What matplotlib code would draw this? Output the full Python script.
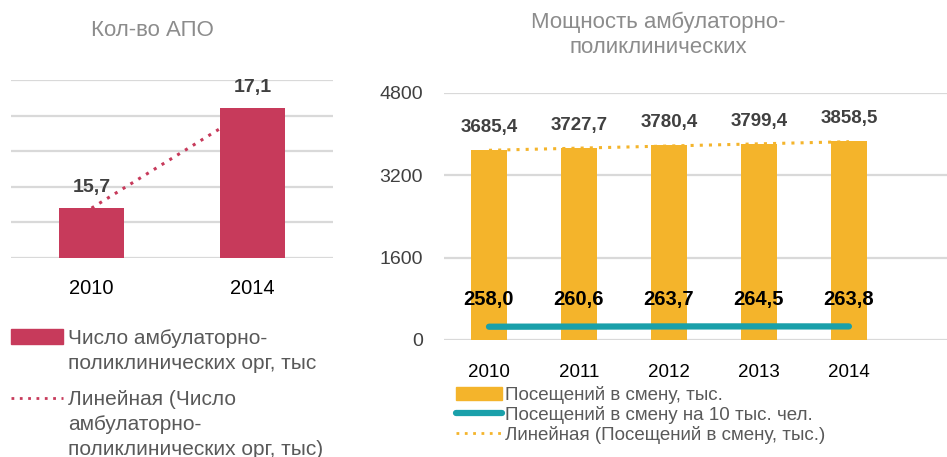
import numpy as np
import matplotlib
matplotlib.use("Agg")
import matplotlib.pyplot as plt
from matplotlib.patches import Patch
from matplotlib.lines import Line2D

plt.rcParams['font.family'] = ['Liberation Sans', 'DejaVu Sans']

# left chart data
apo_years = ['2010', '2014']
apo_values = [15.7, 17.1]

# right chart data
years = ['2010', '2011', '2012', '2013', '2014']
visits = [3685.4, 3727.7, 3780.4, 3799.4, 3858.5]
visits_per_10k = [258.0, 260.6, 263.7, 264.5, 263.8]

red = '#C73A5B'
yellow = '#F4B42B'
teal = '#1AA0AA'
grid_c = '#D9D9D9'
title_c = '#8C8C8C'
label_c = '#404040'
legend_c = '#595959'

W, H = 947, 457
fig = plt.figure(figsize=(W / 100, H / 100), dpi=100)


def px_axes(x0, y_top, x1, y_bot):
    return fig.add_axes([x0 / W, (H - y_bot) / H, (x1 - x0) / W, (y_bot - y_top) / H])


def fmt(v):
    return f'{v:.1f}'.replace('.', ',')


def style_axes(ax):
    for s in ax.spines.values():
        s.set_visible(False)
    ax.set_axisbelow(True)
    ax.yaxis.grid(True, color=grid_c, linewidth=1.6)
    ax.tick_params(length=0)


# ---------- left chart ----------
ax1 = px_axes(11, 80, 333, 258)
style_axes(ax1)
x1 = np.arange(len(apo_years))
ax1.bar(x1, apo_values, width=0.4, color=red, bottom=0)
ax1.set_ylim(15.0, 17.5)
ax1.set_yticks(np.arange(15.0, 17.51, 0.5))
ax1.set_yticklabels([])
ax1.set_xlim(-0.5, 1.5)
ax1.set_xticks(x1)
ax1.set_xticklabels(apo_years, fontsize=14.5, color='black')
ax1.tick_params(axis='x', pad=15)
fit1 = np.polyfit(x1, apo_values, 1)
ax1.plot(x1, np.polyval(fit1, x1), linestyle=(0, (1, 2)), color=red, linewidth=2.2)
for xi, v in zip(x1, apo_values):
    ax1.annotate(fmt(v), (xi, v), xytext=(0, 15), textcoords='offset points',
                 ha='center', va='center', fontsize=14, fontweight='bold', color=label_c)
fig.text(152 / W, 1 - 30 / H, 'Кол-во АПО', ha='center', va='center', fontsize=16, color=title_c)

leg1 = ax1.legend(
    handles=[Patch(color=red),
             Line2D([], [], color=red, linestyle=(0, (1, 2)), linewidth=2)],
    labels=['Число амбулаторно-\nполиклинических орг, тыс',
            'Линейная (Число\nамбулаторно-\nполиклинических орг, тыс)'],
    loc='upper left', bbox_to_anchor=(11 / W, 1 - 329 / H), bbox_transform=fig.transFigure,
    frameon=False, fontsize=15, borderpad=0, borderaxespad=0,
    handlelength=2.5, handletextpad=0.25, labelspacing=0.85, labelcolor=legend_c)
for t in leg1.get_texts():
    t.set_linespacing(1.38)
for col in leg1._legend_handle_box.get_children():
    for row in col.get_children():
        row.align = 'top'

# ---------- right chart ----------
ax2 = px_axes(444, 93, 947, 340)
style_axes(ax2)
x2 = np.arange(len(years))
ax2.bar(x2, visits, width=0.4, color=yellow)
ax2.plot(x2, visits_per_10k, color=teal, linewidth=4.5, solid_capstyle='round')
fit2 = np.polyfit(x2, visits, 1)
ax2.plot(x2, np.polyval(fit2, x2), linestyle=(0, (1, 2)), color=yellow, linewidth=2.2)
ax2.set_ylim(0, 4800)
ax2.set_yticks([0, 1600, 3200, 4800])
ax2.set_yticklabels(['0', '1600', '3200', '4800'], fontsize=14, color=label_c)
ax2.tick_params(axis='y', pad=15)
ax2.set_xlim(-0.5, 5.09)
ax2.set_xticks(x2)
ax2.set_xticklabels(years, fontsize=13.5, color='black')
ax2.tick_params(axis='x', pad=17)
for xi, v in zip(x2, visits):
    ax2.annotate(fmt(v), (xi, v), xytext=(0, 16.5), textcoords='offset points',
                 ha='center', va='center', fontsize=13.5, fontweight='bold', color=label_c)
for xi, v in zip(x2, visits_per_10k):
    ax2.annotate(fmt(v), (xi, v), xytext=(0, 19.5), textcoords='offset points',
                 ha='center', va='center', fontsize=14.5, fontweight='bold', color='black')
fig.text(658 / W, 1 - 35 / H, 'Мощность амбулаторно-\nполиклинических', ha='center', va='center',
         fontsize=16, color=title_c, linespacing=1.25)

ax2.legend(
    handles=[Patch(color=yellow),
             Line2D([], [], color=teal, linewidth=4.5, solid_capstyle='round'),
             Line2D([], [], color=yellow, linestyle=(0, (1, 2)), linewidth=2)],
    labels=['Посещений в смену, тыс.', 'Посещений в смену на 10 тыс. чел.',
            'Линейная (Посещений в смену, тыс.)'],
    loc='upper left', bbox_to_anchor=(456 / W, 1 - 386 / H), bbox_transform=fig.transFigure,
    frameon=False, fontsize=13.5, borderpad=0, borderaxespad=0,
    handlelength=2.45, handletextpad=0.15, labelspacing=0.1, labelcolor=legend_c)

fig.savefig('out.png', dpi=100)
